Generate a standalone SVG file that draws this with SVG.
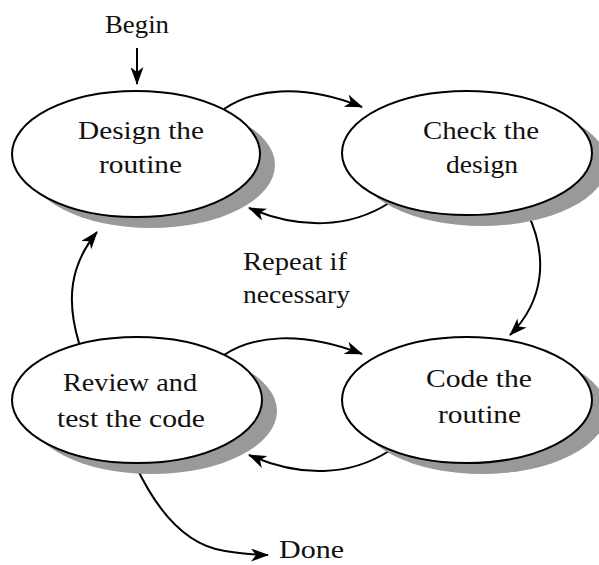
<svg xmlns="http://www.w3.org/2000/svg" width="599" height="565" viewBox="0 0 599 565">
<defs>
<style>
.shadow{fill:#999999;stroke:none}
.node{fill:#ffffff;stroke:#000000;stroke-width:2}
.t{font-family:"Liberation Serif","Times New Roman",serif;font-size:26px;fill:#111111}
.c{fill:none;stroke:#000000;stroke-width:2}
</style>
<marker id="ah" viewBox="0 0 18 13" refX="17" refY="6.5" markerWidth="18" markerHeight="13" markerUnits="userSpaceOnUse" orient="auto">
<path d="M0,0 L18,6.5 L0,13 L5,6.5 z" fill="#000000"/>
</marker>
</defs>
<rect width="599" height="565" fill="#ffffff"/>
<g id="connectors">
<path class="c" d="M137,48 L137,84" marker-end="url(#ah)"/>
<path class="c" d="M224,109 C252,90 300,82 362,107" marker-end="url(#ah)"/>
<path class="c" d="M389,203 C350,228 300,230 249,208" marker-end="url(#ah)"/>
<path class="c" d="M527,212 C548,255 545,300 510,335" marker-end="url(#ah)"/>
<path class="c" d="M79,343 C66,300 70,265 97,232" marker-end="url(#ah)"/>
<path class="c" d="M224,355 C252,336 300,330 362,354" marker-end="url(#ah)"/>
<path class="c" d="M389,451 C350,476 300,478 249,455" marker-end="url(#ah)"/>
<path class="c" d="M135,464 C160,518 190,546 225,551 C245,554 255,555 268,555" marker-end="url(#ah)"/>
</g>
<g id="n1">
<ellipse class="shadow" cx="151" cy="165" rx="124" ry="63"/>
<ellipse class="node" cx="136" cy="154" rx="124" ry="63"/>
<text class="t" x="78" y="139" textLength="126" lengthAdjust="spacingAndGlyphs">Design the</text>
<text class="t" x="99" y="173" textLength="83" lengthAdjust="spacingAndGlyphs">routine</text>
</g>
<g id="n2">
<ellipse class="shadow" cx="482" cy="164" rx="125" ry="62"/>
<ellipse class="node" cx="467" cy="153" rx="125" ry="62"/>
<text class="t" x="423" y="139" textLength="116" lengthAdjust="spacingAndGlyphs">Check the</text>
<text class="t" x="446" y="173" textLength="72" lengthAdjust="spacingAndGlyphs">design</text>
</g>
<g id="n3">
<ellipse class="shadow" cx="152" cy="411" rx="125" ry="63"/>
<ellipse class="node" cx="137" cy="400" rx="125" ry="63"/>
<text class="t" x="63" y="391" textLength="134" lengthAdjust="spacingAndGlyphs">Review and</text>
<text class="t" x="57" y="427" textLength="148" lengthAdjust="spacingAndGlyphs">test the code</text>
</g>
<g id="n4">
<ellipse class="shadow" cx="482" cy="411" rx="125" ry="63"/>
<ellipse class="node" cx="467" cy="400" rx="125" ry="63"/>
<text class="t" x="426" y="387" textLength="106" lengthAdjust="spacingAndGlyphs">Code the</text>
<text class="t" x="438" y="423" textLength="83" lengthAdjust="spacingAndGlyphs">routine</text>
</g>
<g id="labels">
<text class="t" x="105" y="33" textLength="64" lengthAdjust="spacingAndGlyphs">Begin</text>
<text class="t" x="243" y="270" textLength="104" lengthAdjust="spacingAndGlyphs">Repeat if</text>
<text class="t" x="243" y="303" textLength="107" lengthAdjust="spacingAndGlyphs">necessary</text>
<text class="t" x="279" y="558" textLength="65" lengthAdjust="spacingAndGlyphs">Done</text>
</g>
</svg>
